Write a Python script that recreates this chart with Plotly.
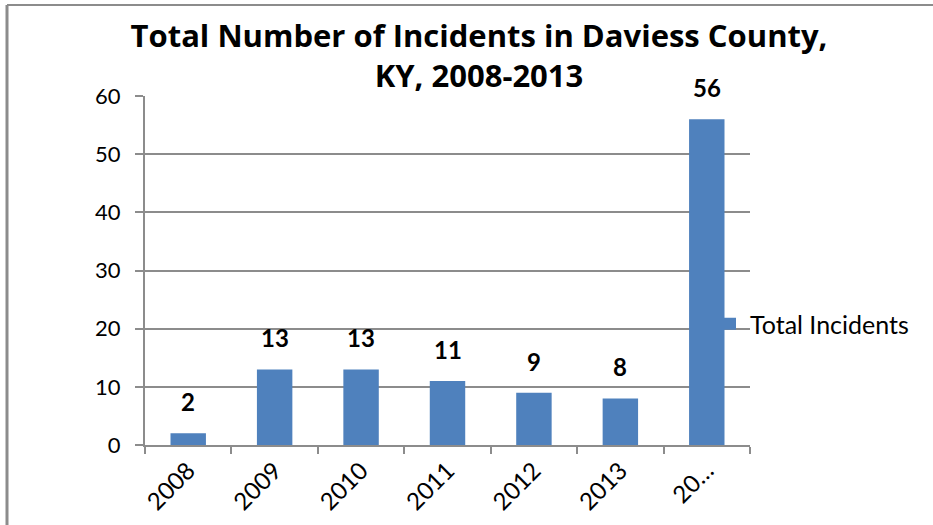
import plotly.graph_objects as go

categories = ["2008", "2009", "2010", "2011", "2012", "2013", "2008-2013"]
tick_labels = ["2008", "2009", "2010", "2011", "2012", "2013", "20…"]
incidents = [2, 13, 13, 11, 9, 8, 56]
series_name = "Total Incidents"
title_lines = ["Total Number of Incidents in Daviess County,", "KY, 2008-2013"]

FONT = "Lato"
TFONT = "Open Sans"
BAR = "#4F81BD"
AXIS = "#8C8C8C"

fig = go.Figure()
fig.add_trace(go.Bar(
    x=categories, y=incidents, name=series_name,
    marker=dict(color=BAR, line=dict(width=0)),
    cliponaxis=False, showlegend=True,
))

# value labels, placed by category index on the category axis
for i, v in enumerate(incidents):
    fig.add_annotation(
        x=i, y=v, xref="x", yref="y", text="<b>%d</b>" % v,
        showarrow=False, yanchor="bottom", yshift=15,
        font=dict(family=FONT, size=24, color="#000000"),
    )

fig.update_layout(
    width=933, height=525,
    margin=dict(l=145, r=183, t=96, b=80, autoexpand=False),
    paper_bgcolor="white", plot_bgcolor="white",
    font=dict(family=FONT, size=22, color="#000000"),
    bargap=0.59,
    title=dict(
        text="<br>".join(title_lines),
        font=dict(family=TFONT, size=31, color="#000000", weight="bold"),
        x=479 / 933, xanchor="center", xref="container",
        y=1 - 47 / 525, yanchor="middle", yref="container",
    ),
    xaxis=dict(
        type="category", range=[-0.5, len(categories) - 0.5],
        tickmode="array", tickvals=categories, ticktext=tick_labels,
        tickangle=-45, ticks="outside", ticklen=7, tickcolor=AXIS, tickwidth=2,
        tickson="boundaries", automargin=False,
        showline=True, linecolor=AXIS, linewidth=2,
        showgrid=False, tickfont=dict(family=FONT, size=24),
    ),
    yaxis=dict(
        range=[0, 60], dtick=10, tick0=0, automargin=False,
        ticks="outside", ticklen=8, tickcolor=AXIS, tickwidth=2,
        ticklabelstandoff=10,
        showline=True, linecolor=AXIS, linewidth=2,
        showgrid=True, gridcolor=AXIS, gridwidth=2,
        zeroline=False, tickfont=dict(family=FONT, size=22),
    ),
    legend=dict(
        x=(710 - 145) / 605, xanchor="left",
        y=(445 - 324) / 349, yanchor="middle",
        bgcolor="rgba(0,0,0,0)", font=dict(family=FONT, size=25),
    ),
    shapes=[
        dict(type="line", xref="paper", yref="paper",
             x0=(7 - 145) / 605, x1=(933 - 145) / 605,
             y0=(445 - 5) / 349, y1=(445 - 5) / 349,
             line=dict(color=AXIS, width=2)),
        dict(type="line", xref="paper", yref="paper",
             x0=(7 - 145) / 605, x1=(7 - 145) / 605,
             y0=(445 - 5) / 349, y1=(445 - 530) / 349,
             line=dict(color=AXIS, width=3)),
    ],
)

fig.write_html("out.html", config={"displayModeBar": False},
               post_script="document.body.style.margin='0';")
